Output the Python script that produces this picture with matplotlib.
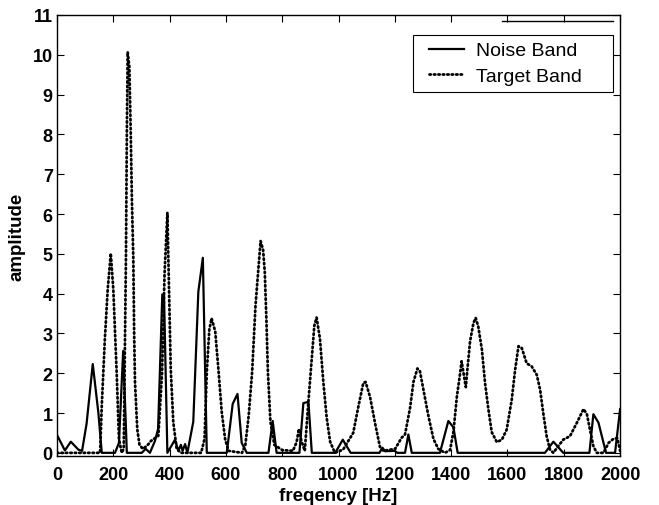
import numpy as np
import matplotlib.pyplot as plt
from matplotlib.lines import Line2D
from matplotlib.legend_handler import HandlerLine2D

plt.rcParams['font.family'] = ['Liberation Sans', 'DejaVu Sans']

# Noise band spectrum (frequency in Hz, amplitude)
noise_f = [0, 28, 49, 76, 89, 105, 127, 147, 159, 206, 220, 235, 248, 301, 315, 330,
           348, 359, 374, 380, 392, 419, 431, 440, 446, 455, 463, 484, 502, 518, 532,
           603, 624, 641, 656, 674, 751, 766, 780, 861, 875, 893, 905, 988, 1015, 1043,
           1145, 1156, 1165, 1200, 1208, 1236, 1248, 1260, 1360, 1390, 1408, 1423,
           1733, 1763, 1798, 1891, 1905, 1923, 1950, 1982, 2000]
noise_a = [0.45, 0.06, 0.28, 0.08, 0.05, 0.73, 2.23, 1.0, 0, 0, 0.25, 2.56, 0, 0, 0.1, 0,
           0.3, 0.6, 3.98, 3.98, 0, 0.33, 0.05, 0.2, 0.05, 0.22, 0, 0.78, 4.05, 4.9, 0,
           0, 1.23, 1.48, 0.25, 0, 0, 0.8, 0, 0, 1.25, 1.28, 0, 0, 0.33, 0,
           0, 0.13, 0.04, 0.05, 0, 0, 0.46, 0, 0, 0.8, 0.64, 0,
           0, 0.28, 0, 0, 0.97, 0.76, 0, 0, 1.1]

# Target band spectrum
target_f = [0, 141, 153, 159, 170, 180, 191, 200, 212, 220,
            230, 237, 241, 245, 248, 251, 257, 262, 266, 271,
            274, 277, 285, 293, 305, 320, 334, 360, 373, 382,
            392, 398, 404, 413, 425, 440,
            512, 524, 532, 541, 549, 562, 574, 585, 597, 609,
            657, 669, 681, 693, 705, 714, 723, 732, 738, 744,
            749, 758, 772, 800, 838, 851, 859, 868, 880, 893,
            905, 914, 922, 934, 946, 958, 970, 987, 1016, 1052,
            1070, 1088, 1096, 1112, 1130, 1147, 1159, 1201, 1224, 1236,
            1254, 1266, 1280, 1289, 1301, 1319, 1337, 1354, 1378, 1396,
            1408, 1420, 1431, 1437, 1452, 1457, 1467, 1479, 1487, 1496,
            1509, 1520, 1532, 1544, 1562, 1580, 1597, 1615, 1627, 1639,
            1651, 1668, 1686, 1704, 1716, 1727, 1739, 1751, 1763, 1775,
            1798, 1822, 1846, 1870, 1882, 1893, 1905, 1917, 1941, 1959,
            1976, 1990, 2000]
target_a = [0, 0, 0, 1.19, 2.86, 4.1, 5.01, 4.1, 2.0, 0.35,
            0, 0.1, 2.5, 5.0, 8.0, 10.07, 9.7, 8.0, 6.35, 4.9,
            3.0, 1.77, 0.6, 0.2, 0.1, 0.18, 0.3, 0.43, 2.0, 4.5,
            6.03, 4.0, 2.1, 0.77, 0.1, 0,
            0, 0.35, 2.03, 3.1, 3.38, 3.05, 2.03, 1.03, 0.35, 0.05,
            0, 0.2, 0.95, 2.03, 3.7, 4.5, 5.32, 5.1, 4.53, 3.28,
            2.03, 0.78, 0.2, 0.07, 0.05, 0.27, 0.6, 0.3, 0.05, 1.3,
            2.37, 3.2, 3.4, 2.86, 1.77, 0.87, 0.28, 0, 0.08, 0.5,
            1.15, 1.76, 1.78, 1.4, 0.73, 0.15, 0.05, 0.1, 0.38, 0.46,
            1.13, 1.78, 2.12, 2.05, 1.6, 0.93, 0.35, 0.1, 0, 0.07,
            0.53, 1.4, 1.96, 2.3, 1.65, 2.05, 2.8, 3.26, 3.39, 3.18,
            2.6, 1.77, 1.1, 0.52, 0.27, 0.33, 0.58, 1.33, 2.08, 2.68,
            2.63, 2.25, 2.17, 1.96, 1.58, 1.0, 0.42, 0.08, 0, 0.12,
            0.33, 0.42, 0.75, 1.1, 0.97, 0.58, 0.17, 0, 0, 0.25,
            0.35, 0.37, 0.05]

fig = plt.figure(figsize=(6.59, 5.06), dpi=100)
ax = fig.add_axes([0.0865, 0.0968, 0.8545, 0.8716])

ax.plot(noise_f, noise_a, color='black', linewidth=1.6, label='Noise Band')
ax.plot(target_f, target_a, color='black', linewidth=2.0,
        linestyle=(0, (0.5, 1.1)), dash_capstyle='round', label='Target Band')

ax.set_xlim(0, 2000)
ax.set_ylim(-0.08, 11)
ax.set_xticks(np.arange(0, 2001, 200))
ax.set_yticks(np.arange(0, 12, 1))
ax.tick_params(direction='in', top=True, right=True, length=5, width=0.8,
               labelsize=13)
ax.tick_params(axis='x', pad=7)
ax.tick_params(axis='y', pad=3)
for lbl in ax.get_xticklabels() + ax.get_yticklabels():
    lbl.set_fontweight('bold')
for s in ax.spines.values():
    s.set_linewidth(1.0)

ax.set_xlabel('freqency [Hz]', fontsize=13.5, fontweight='bold', labelpad=3)
ax.set_ylabel('amplitude', fontsize=13.5, fontweight='bold', labelpad=5)

leg = ax.legend(loc='upper left', bbox_to_anchor=(0.632, 0.9546, 0.356, 0.0),
                mode='expand', fontsize=14,
                fancybox=False, framealpha=1, edgecolor='black',
                handlelength=2.3, handletextpad=0.6, borderpad=0.35,
                labelspacing=0.42, borderaxespad=0,
                handler_map={Line2D: HandlerLine2D(xpad=0.5)})
leg.get_frame().set_linewidth(0.8)

# short rule above the legend
fig.add_artist(Line2D([0.762, 0.930], [0.957, 0.957], color='black', linewidth=1.0))

fig.savefig('out.png', dpi=100)
